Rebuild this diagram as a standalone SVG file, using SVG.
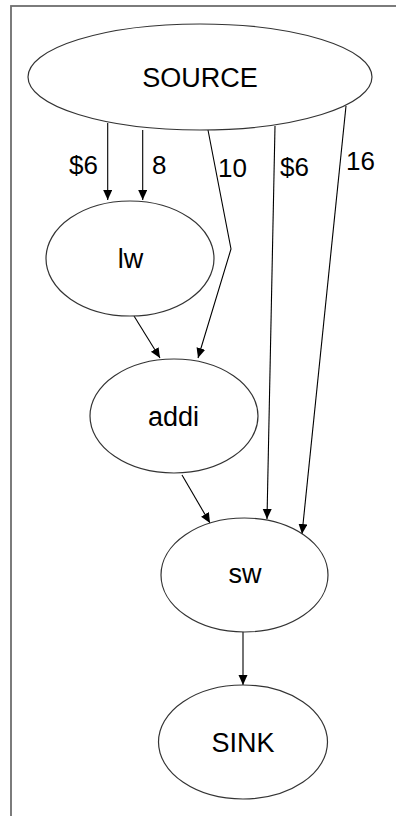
<svg xmlns="http://www.w3.org/2000/svg" width="396" height="816" viewBox="0 0 396 816">
  <style>
    .node ellipse { fill: #ffffff; stroke: #333333; stroke-width: 1.2; }
    .node text { font-family: "Liberation Sans", Arial, sans-serif; font-size: 27px; fill: #000000; text-anchor: middle; }
    .edge { fill: none; stroke: #000000; stroke-width: 1.1; marker-end: url(#arrow); }
    .label { font-family: "Liberation Sans", Arial, sans-serif; font-size: 26px; fill: #000000; }
  </style>
  <defs>
    <marker id="arrow" markerUnits="userSpaceOnUse" markerWidth="11" markerHeight="10" refX="10" refY="4.5" orient="auto">
      <path d="M0,0 L10,4.5 L0,9 z" fill="#000000"/>
    </marker>
  </defs>
  <rect x="0" y="0" width="396" height="816" fill="#ffffff"/>
  <rect id="frame" x="11" y="6" width="400" height="830" fill="none" stroke="#6e6e6e" stroke-width="1.8"/>

  <g id="connectors">
    <line class="edge" x1="107.7" y1="123" x2="107.7" y2="200"/>
    <line class="edge" x1="142.7" y1="130" x2="142.7" y2="200"/>
    <polyline class="edge" points="208,130 231,249 198,358"/>
    <line class="edge" x1="275" y1="126" x2="267" y2="519"/>
    <line class="edge" x1="346" y1="106" x2="302" y2="534"/>
    <line class="edge" x1="134" y1="316" x2="160" y2="358"/>
    <line class="edge" x1="182" y1="475" x2="210" y2="523"/>
    <line class="edge" x1="243" y1="632" x2="243" y2="685"/>
    <text class="label" x="69" y="174">$6</text>
    <text class="label" x="152" y="174">8</text>
    <text class="label" x="218" y="177">10</text>
    <text class="label" x="280" y="176">$6</text>
    <text class="label" x="346" y="170">16</text>
  </g>

  <g id="source" class="node">
    <ellipse cx="200" cy="77" rx="172" ry="53"/>
    <text x="200" y="87">SOURCE</text>
  </g>
  <g id="lw" class="node">
    <ellipse cx="130" cy="258.5" rx="84" ry="57.5"/>
    <text x="130.5" y="268">lw</text>
  </g>
  <g id="addi" class="node">
    <ellipse cx="174" cy="416" rx="84" ry="57"/>
    <text x="173.5" y="426">addi</text>
  </g>
  <g id="sw" class="node">
    <ellipse cx="244.5" cy="575" rx="83.5" ry="57"/>
    <text x="245" y="583">sw</text>
  </g>
  <g id="sink" class="node">
    <ellipse cx="243" cy="742" rx="84.5" ry="57"/>
    <text x="243" y="752">SINK</text>
  </g>
</svg>
